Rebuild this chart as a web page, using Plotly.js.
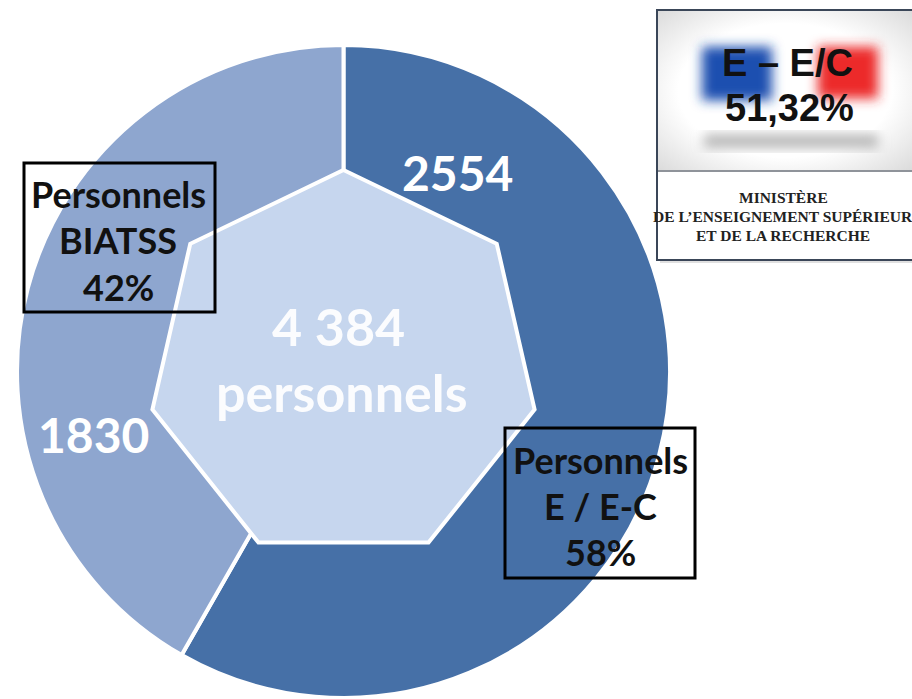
<!DOCTYPE html>
<html>
<head>
<meta charset="utf-8">
<script src="https://cdn.plot.ly/plotly-3.0.1.min.js"></script>
<style>
  html, body { margin: 0; padding: 0; background: #ffffff; }
  #chart { width: 912px; height: 699px; }
</style>
</head>
<body>
<div id="chart"></div>
<script>
// ---- data ----
const categories = ['Personnels E / E-C', 'Personnels BIATSS'];
const categoryLines = [['Personnels', 'E / E-C'], ['Personnels', 'BIATSS']];
const values = [2554, 1830];
const sliceColors = ['#4670a7', '#8ea6cf'];
const totalUnit = 'personnels';
const parityLabel = 'E \u2013 E/C';
const parityValue = '51,32%';
const ministryLines = ['MINISTÈRE', 'DE L\u2019ENSEIGNEMENT SUPÉRIEUR', 'ET DE LA RECHERCHE'];

// ---- helpers ----
const W = 912, H = 699;
const px = x => x / W;
const py = y => 1 - y / H;
const total = values.reduce((a, b) => a + b, 0);
const fmt = n => String(n).replace(/\B(?=(\d{3})+(?!\d))/g, ' ');
const pct = v => Math.round(100 * v / total) + '%';

// pie geometry (pixels)
const cx = 343.5, cy = 371.5, R = 326.5;

// heptagon path
const hr = 196, hcy = 366;
let hp = '';
for (let i = 0; i < 7; i++) {
  const a = i * 2 * Math.PI / 7;
  const x = cx + hr * Math.sin(a);
  const y = hcy - hr * Math.cos(a);
  hp += (i === 0 ? 'M ' : ' L ') + px(x).toFixed(5) + ' ' + py(y).toFixed(5);
}
hp += ' Z';

const trace = {
  type: 'pie',
  labels: categories,
  values: values,
  sort: false,
  direction: 'clockwise',
  rotation: 0,
  textinfo: 'none',
  hoverinfo: 'label+value+percent',
  marker: { colors: sliceColors, line: { color: '#ffffff', width: 4 } },
  domain: { x: [px(cx - R), px(cx + R)], y: [py(cy + R), py(cy - R)] },
  showlegend: false
};

const boxFont = { family: 'Lato, sans-serif', size: 36, color: '#111111', weight: 700 };
const annotations = [];
function addText(x, y, text, font) {
  annotations.push({ xref: 'paper', yref: 'paper', x: px(x), y: py(y), text: text,
    showarrow: false, xanchor: 'center', yanchor: 'middle', font: font });
}
// slice values
addText(458, 172, String(values[0]), { family: 'Lato, sans-serif', size: 48, color: '#ffffff', weight: 700 });
addText(93, 434, String(values[1]), { family: 'Lato, sans-serif', size: 48, color: '#ffffff', weight: 700 });
// centre total
addText(338, 326, fmt(total), { family: 'Lato, sans-serif', size: 52, color: 'rgba(255,255,255,0.92)', weight: 700 });
addText(342, 392, totalUnit, { family: 'Lato, sans-serif', size: 52, color: 'rgba(255,255,255,0.92)', weight: 700 });
// label boxes
addText(118, 194, categoryLines[1][0], boxFont);
addText(118, 240, categoryLines[1][1], boxFont);
addText(118, 287, pct(values[1]), boxFont);
addText(600, 460, categoryLines[0][0], boxFont);
addText(600, 506, categoryLines[0][1], boxFont);
addText(600, 552, pct(values[0]), boxFont);
// logo
const arialB = { family: 'Liberation Sans, Arial, sans-serif', size: 38, color: '#111111', weight: 700 };
addText(787, 63, parityLabel, arialB);
addText(789, 108, parityValue, arialB);
const serifB = { family: 'Liberation Serif, serif', size: 15.5, color: '#222222', weight: 700 };
addText(783, 198, ministryLines[0], serifB);
addText(783, 216, ministryLines[1], serifB);
addText(783, 235, ministryLines[2], serifB);

const shapes = [
  { type: 'path', xref: 'paper', yref: 'paper', path: hp, fillcolor: '#c6d6ee',
    line: { color: '#ffffff', width: 4 }, layer: 'above' },
  { type: 'rect', xref: 'paper', yref: 'paper', x0: px(24), x1: px(215), y0: py(163), y1: py(312),
    line: { color: '#000000', width: 3 }, fillcolor: 'rgba(0,0,0,0)', layer: 'above' },
  { type: 'rect', xref: 'paper', yref: 'paper', x0: px(505), x1: px(695), y0: py(428), y1: py(578),
    line: { color: '#000000', width: 3 }, fillcolor: 'rgba(0,0,0,0)', layer: 'above' },
  // logo box shadow + box
  { type: 'rect', xref: 'paper', yref: 'paper', x0: px(660), x1: px(915), y0: py(13), y1: py(263),
    line: { width: 0 }, fillcolor: 'rgba(0,0,0,0.12)', layer: 'below' },
  { type: 'rect', xref: 'paper', yref: 'paper', x0: px(657), x1: px(913), y0: py(10), y1: py(260),
    line: { color: '#3a4658', width: 2 }, fillcolor: '#ffffff', layer: 'below' },
  { type: 'line', xref: 'paper', yref: 'paper', x0: px(658), x1: px(912), y0: py(171), y1: py(171),
    line: { color: '#6a6f78', width: 1.5 }, layer: 'above' }
];

const svg = "<svg xmlns='http://www.w3.org/2000/svg' width='254' height='160' viewBox='0 0 254 160'>" +
  "<defs><filter id='b' x='-30%' y='-30%' width='160%' height='160%'><feGaussianBlur stdDeviation='6'/></filter>" +
  "<radialGradient id='g' cx='50%' cy='50%' r='70%'><stop offset='0.6' stop-color='#ffffff'/><stop offset='1' stop-color='#dcdcdc'/></radialGradient></defs>" +
  "<rect x='0' y='0' width='254' height='160' fill='url(#g)'/>" +
  "<rect x='44' y='36' width='70' height='54' fill='#1f4fb0' filter='url(#b)'/>" +
  "<rect x='160' y='36' width='60' height='52' fill='#ec2b2b' filter='url(#b)'/>" +
  "<rect x='46' y='124' width='174' height='14' fill='#b8b8b8' filter='url(#b)'/>" +
  "</svg>";
const images = [{
  source: 'data:image/svg+xml;charset=utf-8,' + encodeURIComponent(svg),
  xref: 'paper', yref: 'paper', x: px(658), y: py(11), sizex: 254 / W, sizey: 159 / H,
  xanchor: 'left', yanchor: 'top', sizing: 'stretch', layer: 'above'
}];

const layout = {
  width: W, height: H,
  margin: { l: 0, r: 0, t: 0, b: 0, pad: 0 },
  paper_bgcolor: '#ffffff',
  showlegend: false,
  shapes: shapes,
  annotations: annotations,
  images: images
};

Plotly.newPlot('chart', [trace], layout, { displayModeBar: false, staticPlot: true });
</script>
</body>
</html>
